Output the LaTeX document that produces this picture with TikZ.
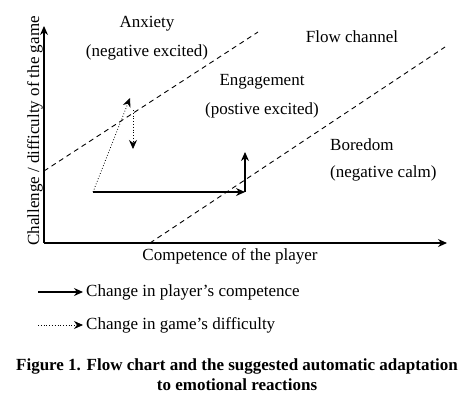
\documentclass[tikz,border=0pt]{standalone}
\usepackage{fontspec}
\setmainfont{Liberation Serif}
\usetikzlibrary{arrows.meta,positioning}

\begin{document}
\begin{tikzpicture}[
    x=1bp, y=-1bp,
    >={Stealth[length=9bp,width=8bp]},
    lbl/.style={font=\fontsize{17bp}{20bp}\selectfont, inner sep=0pt, align=center},
    axis/.style={->, line width=1.2pt},
    chan/.style={dashed, line width=0.9pt, dash pattern=on 5pt off 4pt},
    solidarr/.style={->, line width=1.1pt},
    dotarr/.style={->, line width=0.8pt, dotted}
  ]
    \useasboundingbox (0,0) rectangle (474,404);
    % axes
    \coordinate (O) at (44,243);
    \coordinate (ytip) at (44,26);
    \coordinate (xtip) at (447,243);
    \draw[axis] (O) -- (ytip);
    \draw[axis] (O) -- (xtip);
    \node[lbl, rotate=90] (ylab) at (35,131) {Challenge / difficulty of the game};
    \node[lbl] (xlab) at (230,256) {Competence of the player};

    % flow channel borders
    \coordinate (ua) at (44,171);
    \coordinate (ub) at (258,32);
    \coordinate (la) at (150,243);
    \coordinate (lb) at (445,47);
    \draw[chan] (ua) -- (ub);
    \draw[chan] (la) -- (lb);

    % regions
    \node[lbl] (anx) at (147,24) {Anxiety};
    \node[lbl] (anxsub) at (147,52) {(negative excited)};
    \node[lbl] (flow) at (352,37) {Flow channel};
    \node[lbl] (eng) at (262,82) {Engagement};
    \node[lbl] (engsub) at (262,110) {(postive excited)};
    \node[lbl, anchor=west] (bor) at (330,145) {Boredom};
    \node[lbl, anchor=west] (borsub) at (330,173) {(negative calm)};

    % adaptation
    \coordinate (s) at (93,192);
    \coordinate (c1) at (245,192);
    \coordinate (c2) at (245,152);
    \coordinate (d1) at (130,98);
    \coordinate (d2) at (133,110);
    \coordinate (d3) at (133,149);
    \draw[solidarr] (s) -- (c1);
    \draw[solidarr] (c1) -- (c2);
    \draw[dotarr] (s) -- (d1);
    \draw[dotarr] (d2) -- (d3);

    % legend
    \node[lbl, anchor=west] (leg1) at (86,292) {Change in player’s competence};
    \node[lbl, anchor=west] (leg2) at (86,325) {Change in game’s difficulty};
    \coordinate (l1) at (38,292);
    \coordinate (l2) at (38,325);
    \draw[solidarr, shorten >=3bp] (l1) -- (leg1.west);
    \draw[dotarr, shorten >=3bp] (l2) -- (leg2.west);

    % caption
    \node[lbl, font=\fontsize{17bp}{20bp}\selectfont\bfseries] (cap) at (237,375)
      {Figure 1. Flow chart and the suggested automatic adaptation\\to emotional reactions};
  \end{tikzpicture}
\end{document}
